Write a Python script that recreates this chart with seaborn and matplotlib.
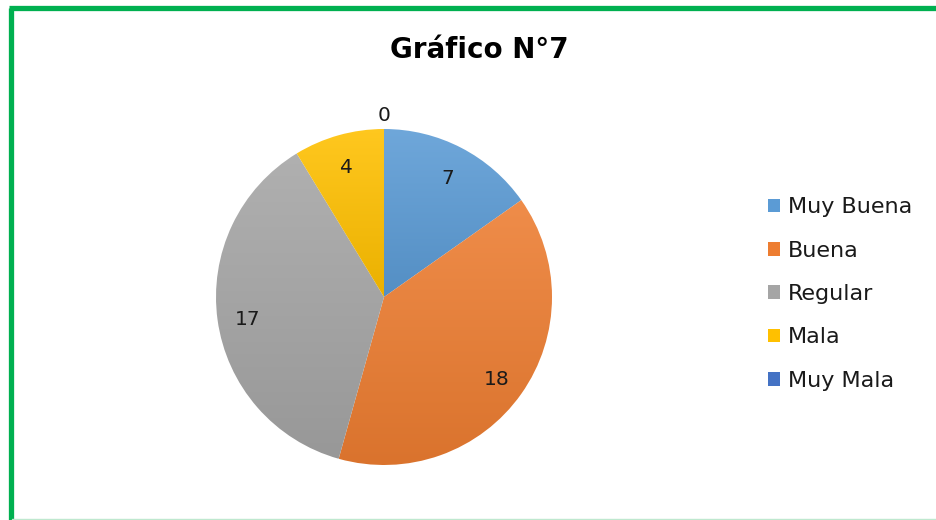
import numpy as np
import matplotlib
matplotlib.use("Agg")
import matplotlib.pyplot as plt
import matplotlib.colors as mcolors
from matplotlib.patches import Rectangle
from matplotlib.lines import Line2D
import seaborn as sns

# data
categories = ["Muy Buena", "Buena", "Regular", "Mala", "Muy Mala"]
values = [7, 18, 17, 4, 0]
colors = ["#5B9BD5", "#ED7D31", "#A5A5A5", "#FFC000", "#4472C4"]
title = "Gráfico N°7"

sns.set_theme(style="white")
plt.rcParams["font.family"] = ["DejaVu Sans"]

fig = plt.figure(figsize=(9.36, 5.2), dpi=100)
W, H = 936, 520

# pie axes: center (384, 297), radius 168 px
cx, cy, R = 384, 297, 168
ax = fig.add_axes([(cx - R) / W, (H - cy - R) / H, 2 * R / W, 2 * R / H])

wedges, _ = ax.pie(values, colors=colors, startangle=90, counterclock=False,
                   radius=1, wedgeprops=dict(linewidth=0))
ax.set_aspect("equal")
ax.axis("off")


def shade(c, f):
    r = np.array(mcolors.to_rgb(c))
    if f > 0:
        return r + (1 - r) * f
    return r * (1 + f)


# gradient fill per slice (lighter on top, darker at bottom)
for w, c in zip(wedges, colors):
    if w.theta2 - w.theta1 <= 0:
        continue
    bb = w.get_path().get_extents(w.get_transform() + ax.transData.inverted())
    top, bot = shade(c, 0.12), shade(c, -0.08)
    t = np.linspace(0, 1, 256)[:, None]
    img = (top[None, :] * (1 - t) + bot[None, :] * t)[:, None, :]
    w.set_facecolor("none")
    im = ax.imshow(img, extent=[bb.x0, bb.x1, bb.y0, bb.y1], origin="upper",
                   aspect="auto", zorder=1, interpolation="bilinear")
    im.set_clip_path(w)
ax.set_xlim(-1, 1)
ax.set_ylim(-1, 1)

# data labels
for w, v in zip(wedges, values):
    ang = np.deg2rad((w.theta1 + w.theta2) / 2)
    d = 0.82 if v > 0 else 1.1
    ax.text(d * np.cos(ang), d * np.sin(ang) - 0.02, str(v), ha="center", va="center",
            fontsize=14.5, color="#1a1a1a", zorder=3)

# title
fig.text(479 / W, 1 - 50 / H, title, ha="center", va="center",
         fontsize=20, fontweight="bold", color="#000000")

# legend
handles = [Rectangle((0, 0), 1, 1, facecolor=c, edgecolor="none") for c in colors]
fig.legend(handles, categories, loc="center left",
           bbox_to_anchor=(768 / W, 1 - 294 / H), frameon=False,
           fontsize=16, labelcolor="#1a1a1a", handlelength=0.55, handleheight=0.55,
           handletextpad=0.35, labelspacing=1.05, borderpad=0, borderaxespad=0)

# green frame
fig.add_artist(Line2D([10.5 / W, 10.5 / W], [0, 1 - 8 / H], color="#00B050",
                      linewidth=3.8, transform=fig.transFigure, solid_capstyle="butt"))
fig.add_artist(Line2D([8.6 / W, 1], [1 - 8 / H, 1 - 8 / H], color="#00B050",
                      linewidth=3.8, transform=fig.transFigure, solid_capstyle="butt"))
fig.add_artist(Line2D([12 / W, 1], [0.6 / H, 0.6 / H], color="#BFE8CF",
                      linewidth=1.0, transform=fig.transFigure))

fig.savefig("out.png", dpi=100, facecolor="white")
